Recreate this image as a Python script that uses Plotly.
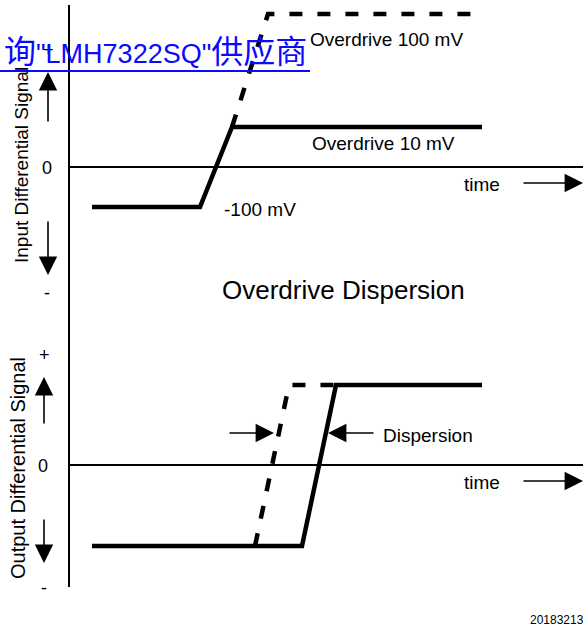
import plotly.graph_objects as go

# canvas units: x = time (left to right), y = level (top to bottom), one unit = one pixel
W, H = 583, 627

# input panel waveforms
in_10mv_t = [92, 200, 232, 482]
in_10mv_v = [207, 207, 127, 127]
in_100mv_t = [232, 268, 482]
in_100mv_v = [127, 14, 14]

# output panel waveforms
out_10mv_t = [92, 302, 336, 482]
out_10mv_v = [546, 546, 385, 385]
out_100mv_t = [255, 289, 336]
out_100mv_v = [546, 385, 385]

# axes of the schematic
axis_x = [69, 69]
axis_y = [5, 587]
zero_in = 167
zero_out = 465

FONT = 'Liberation Sans, Arial, Noto Sans CJK SC, sans-serif'
BLACK = '#000000'
BLUE = '#0a0aff'

fig = go.Figure()


def add_line(xs, ys, width, dash='solid'):
    fig.add_trace(go.Scatter(x=xs, y=ys, mode='lines', hoverinfo='skip',
                             line=dict(color=BLACK, width=width, dash=dash),
                             cliponaxis=False, showlegend=False))


add_line(axis_x, axis_y, 2)
add_line([69, W], [zero_in, zero_in], 2)
add_line([69, W], [zero_out, zero_out], 2)

add_line(in_100mv_t, in_100mv_v, 4.5, dash='13px,15px')
add_line(in_10mv_t, in_10mv_v, 4.5)
add_line(out_100mv_t, out_100mv_v, 4.5, dash='13px,15px')
add_line(out_10mv_t, out_10mv_v, 4.5)

# arrows: (tip x, tip y, tail x, tail y)
arrows = [
    (48, 72, 48, 123), (48, 275, 48, 220),
    (44, 377, 44, 425), (44, 563, 44, 518),
    (583, 183, 522, 183), (583, 481, 522, 481),
    (274, 433, 228, 433), (328, 433, 375, 433),
]
for tx, ty, ax, ay in arrows:
    fig.add_annotation(x=tx, y=ty, ax=ax, ay=ay, xref='x', yref='y', axref='x', ayref='y',
                       text='', showarrow=True, arrowhead=2, arrowsize=2.3, arrowwidth=1.6,
                       arrowcolor=BLACK, standoff=0, startstandoff=0)


def add_text(x, y, text, size=19, xanchor='left', color=BLACK, angle=0):
    fig.add_annotation(x=x, y=y, xref='x', yref='y', text=text, showarrow=False,
                       xanchor=xanchor, yanchor='middle', textangle=angle,
                       font=dict(family=FONT, size=size, color=color))


add_text(308, 39, 'Overdrive 100 mV')
add_text(310, 143, 'Overdrive 10 mV')
add_text(222, 209, '-100 mV')
add_text(462, 184, 'time')
add_text(462, 482, 'time')
add_text(381, 435, 'Dispersion')
add_text(343, 290, 'Overdrive Dispersion', size=26, xanchor='center')

for x, y, t in [(48, 50, '+'), (47, 168, '0'), (47, 293, '-'),
                (44, 355, '+'), (43, 466, '0'), (44, 588, '-')]:
    add_text(x, y, t, size=18, xanchor='center')

add_text(21, 165, 'Input Differential Signal', size=19, xanchor='center', angle=-90)
add_text(18, 468, 'Output Differential Signal', size=20, xanchor='center', angle=-90)

add_text(528, 620, '20183213', size=12)

# blue link watermark
add_text(309, 52, '询<span style="font-size:27px">"LMH7322SQ"</span>供应商', size=32,
         xanchor='right', color=BLUE)
fig.add_shape(type='line', x0=0, x1=310, y0=71, y1=71, xref='x', yref='y',
              line=dict(color=BLUE, width=2))

fig.update_layout(width=W, height=H, margin=dict(l=0, r=0, t=0, b=0),
                  plot_bgcolor='white', paper_bgcolor='white',
                  xaxis=dict(range=[0, W], visible=False, fixedrange=True),
                  yaxis=dict(range=[H, 0], visible=False, fixedrange=True),
                  showlegend=False)

# drop the default page margin so the figure sits at the window's corner
fig.write_html('out.html', config={'displayModeBar': False},
               post_script="document.body.style.margin = '0px';")
